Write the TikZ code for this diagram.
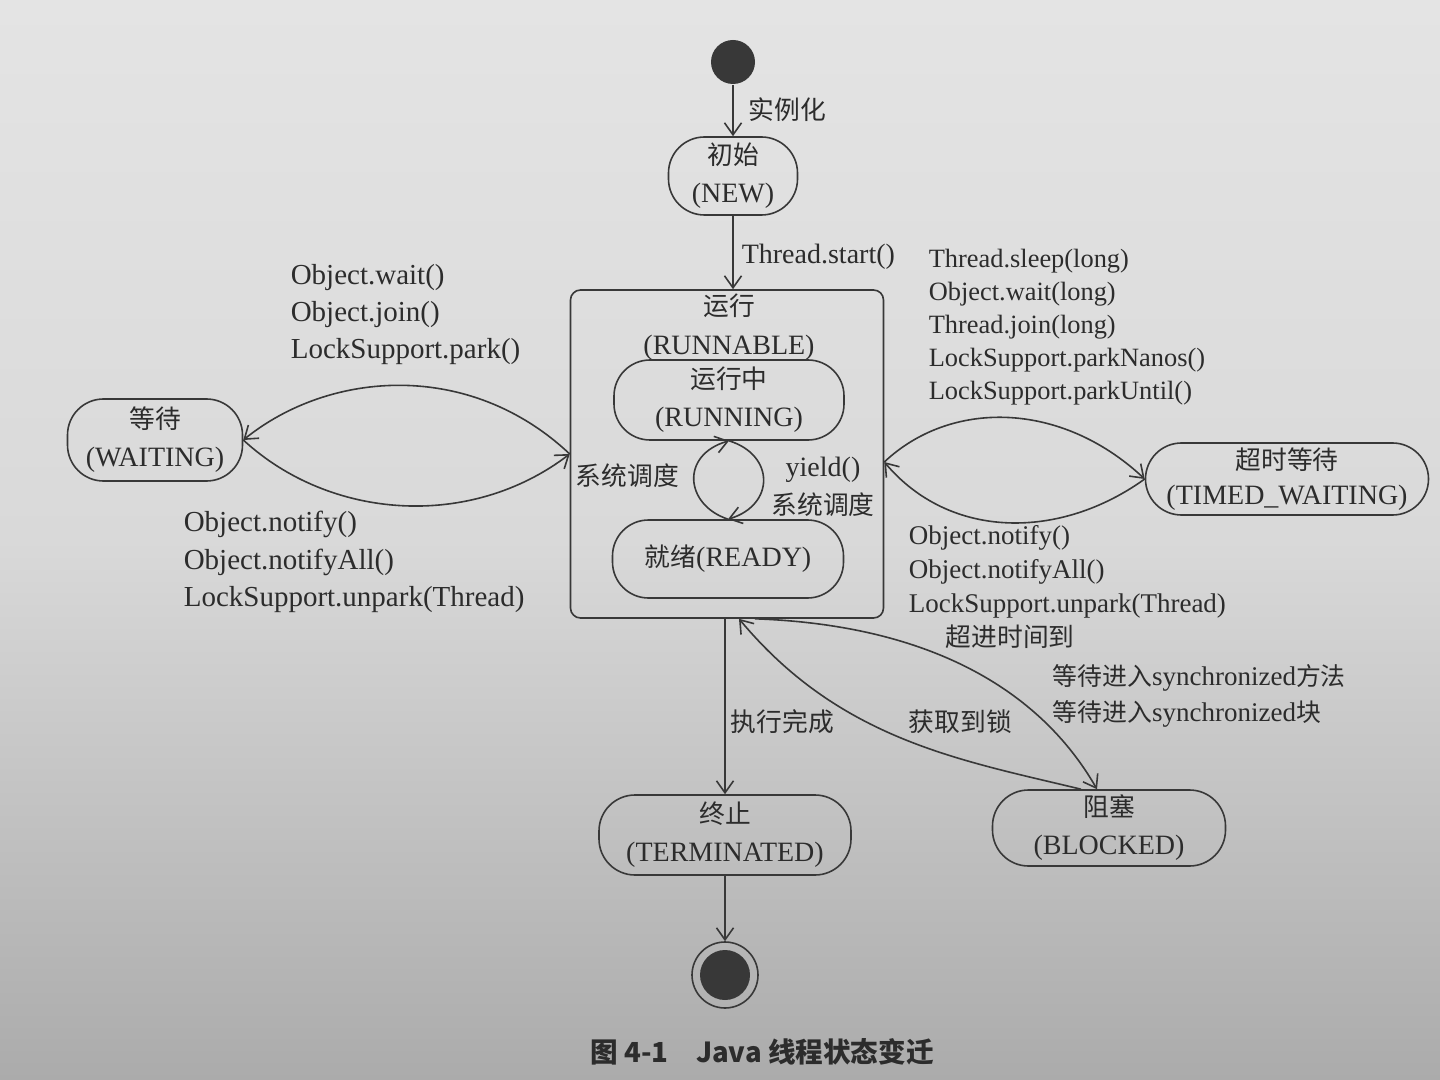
\documentclass[tikz,border=0pt]{standalone}
\usepackage{fontspec}
\setmainfont{Liberation Serif}
\newfontfamily\cjk[Scale=0.92]{Noto Sans CJK SC}
\usetikzlibrary{arrows.meta}
\newcommand{\zhtxt}[1]{{\cjk #1}}
\definecolor{ink}{HTML}{2C2C2C}
\definecolor{linec}{HTML}{383838}
\definecolor{bgtop}{HTML}{E4E4E4}
\definecolor{bgmid}{HTML}{D9D9D9}
\definecolor{bgbot}{HTML}{ABABAB}
\begin{document}
\begin{tikzpicture}[x=0.5pt,y=-0.5pt,line width=0.8pt,
  arr/.style={draw=linec,-{Straight Barb[length=6pt,width=8.5pt,line width=0.8pt]}},
  state/.style={draw=linec,rounded corners=18pt,align=center,inner sep=0pt,text=ink,
                font=\fontsize{14}{19}\selectfont},
  lbl/.style={align=left,inner sep=0pt,text=ink,font=\fontsize{14}{18.5}\selectfont},
  lblr/.style={align=left,inner sep=0pt,text=ink,font=\fontsize{13.2}{16.5}\selectfont},
  dot/.style={circle,fill=linec,inner sep=0pt}]
\fill[top color=bgtop,bottom color=bgbot,middle color=bgmid] (0,0) rectangle (1440,1080);
\useasboundingbox (0,0) rectangle (1440,1080);

% states
\node[dot,minimum size=22pt] (start) at (733,62) {};
\node[state,minimum width=64.5pt,minimum height=39pt] (new) at (733,176) {\zhtxt{初始}\\(NEW)};
\node[draw=linec,rounded corners=5pt,minimum width=156.5pt,minimum height=164pt,inner sep=0pt] (runnable) at (727,454) {};
\node[lbl,align=center,font=\fontsize{14}{19.5}\selectfont] (runtitle) at (729,327) {\zhtxt{运行}\\(RUNNABLE)};
\node[state,minimum width=115pt,minimum height=40pt] (running) at (729,400) {\zhtxt{运行中}\\(RUNNING)};
\node[state,minimum width=115.5pt,minimum height=39pt] (ready) at (728,559) {\zhtxt{就绪}(READY)};
\node[state,minimum width=87.5pt,minimum height=41pt] (waiting) at (155,440) {\zhtxt{等待}\\(WAITING)};
\node[state,minimum width=141.5pt,minimum height=36pt,font=\fontsize{14}{17.5}\selectfont] (timed) at (1287,479) {\zhtxt{超时等待}\\(TIMED\_WAITING)};
\node[state,minimum width=126pt,minimum height=40pt] (terminated) at (725,835) {\zhtxt{终止}\\(TERMINATED)};
\node[state,minimum width=116.5pt,minimum height=38pt] (blocked) at (1109,828) {\zhtxt{阻塞}\\(BLOCKED)};
\node[circle,draw=linec,minimum size=33pt,inner sep=0pt] (end) at (725,975) {};
\node[dot,minimum size=25pt] (endcore) at (end.center) {};

% connectors
\draw[arr] (start) -- (new);
\draw[arr] (new.south) -- (new.south |- runnable.north);
\draw[arr] (terminated.north |- runnable.south) -- (terminated.north);
\draw[arr] (terminated) -- (end);

\draw[arr] (runnable.west) .. controls (470,360) and (330,370) .. (waiting.east);
\draw[arr] (waiting.east) .. controls (330,520) and (470,530) .. (runnable.west);

\draw[arr] ([yshift=-4pt]runnable.east) .. controls (950,400) and (1060,400) .. (timed.west);
\draw[arr] (timed.west) .. controls (1060,540) and (950,540) .. ([yshift=-4pt]runnable.east);

\draw[arr] (ready.north) .. controls (685,505) and (680,455) .. (running.south);
\draw[arr] (running.south) .. controls (775,455) and (775,505) .. (ready.north);

\draw[arr] ([xshift=14pt]runnable.south) .. controls (930,625) and (1040,690) .. ([xshift=-6pt]blocked.north);
\draw[arr] ([xshift=-14pt]blocked.north) .. controls (960,760) and (840,740) .. ([xshift=6pt]runnable.south);

% labels
\node[lbl,anchor=west] (linst) at (748,110) {\zhtxt{实例化}};
\node[lbl,anchor=west] (lstart) at (741,257) {Thread.start()};
\node[lbl,anchor=west,font=\fontsize{14.5}{18.5}\selectfont] (lwaitin) at (290,315) {Object.wait()\\Object.join()\\LockSupport.park()};
\node[lbl,anchor=west,font=\fontsize{14.5}{18.7}\selectfont] (lwaitout) at (183,562) {Object.notify()\\Object.notifyAll()\\LockSupport.unpark(Thread)};
\node[lblr,anchor=west] (ltimedin) at (928,327) {Thread.sleep(long)\\Object.wait(long)\\Thread.join(long)\\LockSupport.parkNanos()\\LockSupport.parkUntil()};
\node[lblr,anchor=west,font=\fontsize{13.5}{17}\selectfont] (ltimedout) at (908,572) {Object.notify()\\Object.notifyAll()\\LockSupport.unpark(Thread)};
\node[lbl,anchor=west] (ltimeout) at (945,637) {\zhtxt{超进时间到}};
\node[lblr,anchor=west,font=\fontsize{13.5}{18}\selectfont] (lsync) at (1052,696) {\zhtxt{等待进入}synchronized\zhtxt{方法}\\\zhtxt{等待进入}synchronized\zhtxt{块}};
\node[lbl,anchor=west] (llock) at (908,722) {\zhtxt{获取到锁}};
\node[lbl,anchor=west] (ldone) at (730,722) {\zhtxt{执行完成}};
\node[lbl,anchor=west] (lsched) at (575,476) {\zhtxt{系统调度}};
\node[lbl,align=center,font=\fontsize{14}{19}\selectfont] (lyield) at (823,487) {yield()\\\zhtxt{系统调度}};

\node[inner sep=0pt,text=ink,font=\cjk\bfseries\fontsize{15}{15}\selectfont] (caption) at (762,1052) {图 4-1\quad Java 线程状态变迁};
\end{tikzpicture}
\end{document}
